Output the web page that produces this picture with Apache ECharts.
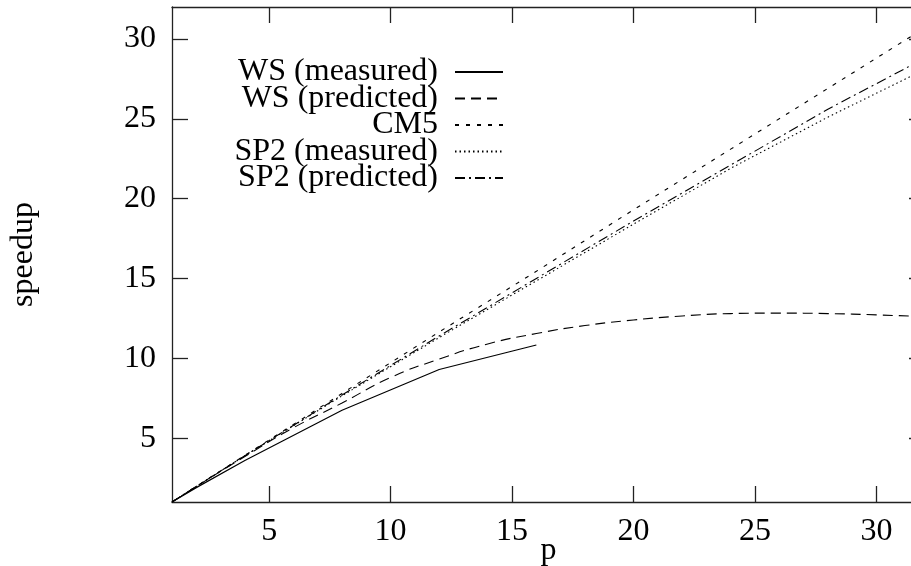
<!DOCTYPE html>
<html>
<head>
<meta charset="utf-8">
<script src="https://cdn.jsdelivr.net/npm/echarts@6/dist/echarts.min.js"></script>
<style>
html,body{margin:0;padding:0;background:#fff;overflow:hidden;}
#chart{width:911px;height:566px;}
</style>
</head>
<body>
<div id="chart"></div>
<script>
// ---- data ----
const seriesNames = ['WS (measured)', 'WS (predicted)', 'CM5', 'SP2 (measured)', 'SP2 (predicted)'];

const wsMeasP = [1, 2, 4, 8, 12, 16];
const wsMeasS = [1, 1.9, 3.6, 6.75, 9.3, 10.83];

const wsPredP = [1, 2, 4, 6, 8, 10, 12, 14, 16, 18, 20, 22, 24, 26, 28, 30, 32];
const wsPredS = [1, 1.97, 3.85, 5.65, 7.2, 8.8, 9.95, 10.9, 11.55, 12.05, 12.4, 12.65, 12.8, 12.83, 12.8, 12.72, 12.6];

const cm5P = [1, 2, 4, 8, 12, 16, 20, 24, 28, 32];
const cm5S = [1, 1.98, 3.92, 7.8, 11.65, 15.45, 19.3, 23.1, 26.9, 30.7];

const sp2MeasP = [1, 2, 4, 8, 12, 16, 20, 24, 28, 32];
const sp2MeasS = [1, 1.97, 3.9, 7.65, 11.3, 14.85, 18.4, 21.9, 25.1, 28.1];

const sp2PredP = [1, 2, 4, 8, 12, 16, 20, 24, 28, 32];
const sp2PredS = [1, 1.97, 3.9, 7.7, 11.4, 15.0, 18.6, 22.1, 25.6, 28.8];

const xTicks = [5, 10, 15, 20, 25, 30];
const yTicks = [5, 10, 15, 20, 25, 30];

const pair = (xs, ys) => xs.map((x, i) => [x, ys[i]]);

const FONT = 'Liberation Serif';
const FS = 32;
const AX = '#222';

const chart = echarts.init(document.getElementById('chart'), null, {renderer: 'canvas'});

function mkSeries(name, data, dash, width, smooth) {
  return {
    name: name,
    type: 'line',
    xAxisIndex: 0,
    yAxisIndex: 0,
    data: data,
    symbol: 'none',
    smooth: smooth || false,
    clip: true,
    lineStyle: {color: '#000', width: width, type: dash},
    itemStyle: {color: '#000'},
    emphasis: {disabled: true},
    animation: false
  };
}

const option = {
  animation: false,
  backgroundColor: '#fff',
  grid: {left: 172, top: 7, right: -14, bottom: 64, outerBoundsMode: 'none', containLabel: false},
  legend: {
    orient: 'vertical',
    align: 'right',
    right: 402,
    top: 51,
    itemWidth: 48,
    itemHeight: 2,
    itemGap: -5.5,
    data: seriesNames,
    selectedMode: false,
    itemStyle: {color: 'rgba(0,0,0,0)', borderWidth: 0},
    textStyle: {fontFamily: FONT, fontSize: FS, color: '#000', padding: [0, 12, 0, 0]}
  },
  xAxis: [
    {
      type: 'value', min: 1, max: 32, position: 'bottom',
      name: 'p', nameLocation: 'middle', nameGap: 33, nameMoveOverlap: false,
      nameTextStyle: {fontFamily: FONT, fontSize: FS, color: '#000'},
      axisLine: {show: true, onZero: false, lineStyle: {color: AX, width: 1.3}},
      axisTick: {show: true, inside: true, length: 16, customValues: xTicks, lineStyle: {color: AX, width: 1.3}},
      axisLabel: {show: true, customValues: xTicks, margin: 14, fontFamily: FONT, fontSize: FS, color: '#000'},
      splitLine: {show: false}
    },
    {
      type: 'value', min: 1, max: 32, position: 'top',
      axisLine: {show: true, onZero: false, lineStyle: {color: AX, width: 1.3}},
      axisTick: {show: true, inside: true, length: 16, customValues: xTicks, lineStyle: {color: AX, width: 1.3}},
      axisLabel: {show: false},
      splitLine: {show: false}
    }
  ],
  yAxis: [
    {
      type: 'value', min: 1, max: 32, position: 'left',
      name: 'speedup', nameLocation: 'middle', nameGap: 132, nameRotate: 90, nameMoveOverlap: false,
      nameTextStyle: {fontFamily: FONT, fontSize: FS, color: '#000'},
      axisLine: {show: true, onZero: false, lineStyle: {color: AX, width: 1.3}},
      axisTick: {show: true, inside: true, length: 16, customValues: yTicks, lineStyle: {color: AX, width: 1.3}},
      axisLabel: {show: true, customValues: yTicks, margin: 16, fontFamily: FONT, fontSize: FS, color: '#000'},
      splitLine: {show: false}
    },
    {
      type: 'value', min: 1, max: 32, position: 'right',
      axisLine: {show: true, onZero: false, lineStyle: {color: AX, width: 1.3}},
      axisTick: {show: true, inside: true, length: 16, customValues: yTicks, lineStyle: {color: AX, width: 1.3}},
      axisLabel: {show: false},
      splitLine: {show: false}
    }
  ],
  series: [
    mkSeries(seriesNames[0], pair(wsMeasP, wsMeasS), 'solid', 1.2, false),
    mkSeries(seriesNames[1], pair(wsPredP, wsPredS), [10, 6], 1.1, true),
    mkSeries(seriesNames[2], pair(cm5P, cm5S), [4, 7], 1.1, false),
    mkSeries(seriesNames[3], pair(sp2MeasP, sp2MeasS), [1.5, 3], 1.1, false),
    mkSeries(seriesNames[4], pair(sp2PredP, sp2PredS), [10, 4, 2, 4], 1.1, false)
  ]
};

chart.setOption(option);
</script>
</body>
</html>
